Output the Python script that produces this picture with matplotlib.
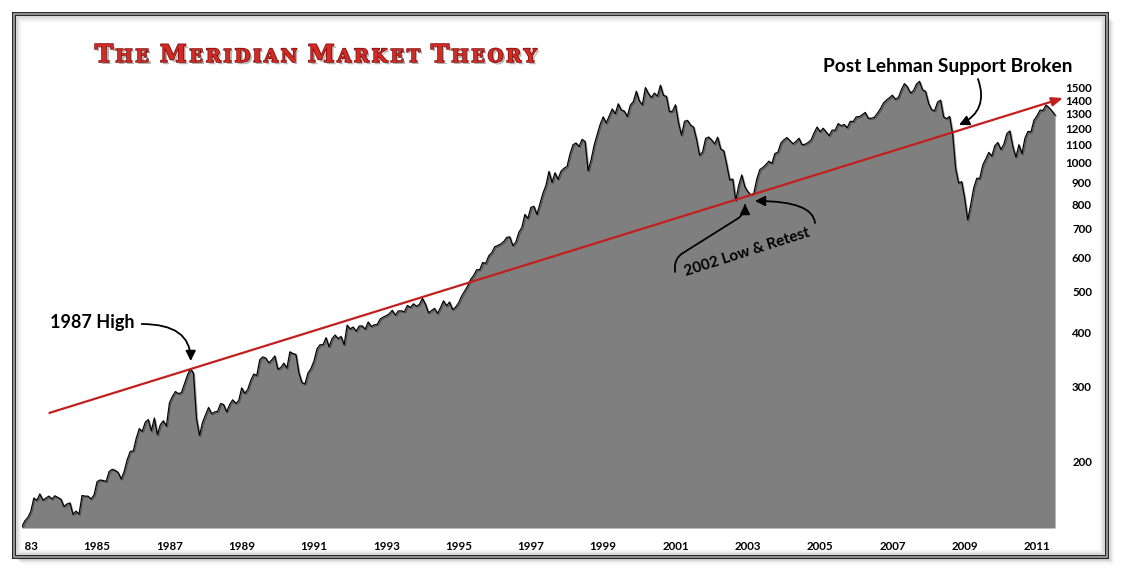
import numpy as np
import matplotlib
matplotlib.use("Agg")
import matplotlib.pyplot as plt
from matplotlib.patches import Rectangle
import matplotlib.patheffects as pe
from matplotlib.transforms import Bbox, TransformedBbox, IdentityTransform
from matplotlib.ticker import NullLocator

# ---------------- data (S&P 500 style monthly closes) -------------
start_year = 1982
start_month = 12

closes_1980s = [
    140.6,
    145.3, 148.1, 153.0, 164.4, 162.4, 168.1, 162.6, 164.4, 166.1, 163.6, 166.4, 164.9,
    163.4, 157.1, 159.2, 160.1, 150.6, 153.2, 150.7, 166.7, 166.1, 166.1, 163.6, 167.2,
    179.6, 181.2, 180.7, 179.8, 189.6, 191.9, 190.9, 188.6, 182.1, 189.8, 202.2, 211.3,
    211.8, 226.9, 238.9, 235.5, 247.4, 250.8, 236.1, 252.9, 231.3, 244.0, 249.2, 242.2,
    274.1, 284.2, 291.7, 288.4, 290.1, 304.0, 318.7, 329.8, 321.8, 251.8, 230.3, 247.1,
    257.1, 267.8, 258.9, 261.3, 262.2, 273.5, 272.0, 261.5, 271.9, 279.0, 273.7, 277.7,
    297.5, 288.9, 294.9, 309.6, 320.5, 318.0, 346.1, 351.5, 349.2, 340.4, 346.0, 353.4,
]
closes_1990s = [
    329.1, 331.9, 339.9, 330.8, 361.2, 358.0, 356.2, 322.6, 306.1, 304.0, 322.2, 330.2,
    343.9, 367.1, 375.2, 375.4, 389.8, 371.2, 387.8, 395.4, 387.9, 392.5, 375.2, 417.1,
    408.8, 412.7, 403.7, 415.0, 415.4, 408.1, 424.2, 414.0, 417.8, 418.7, 431.4, 435.7,
    438.8, 443.4, 451.7, 440.2, 450.2, 450.5, 448.1, 463.6, 458.9, 467.8, 461.8, 466.5,
    481.6, 467.1, 445.8, 450.9, 456.5, 444.3, 458.3, 475.5, 462.7, 472.4, 453.7, 459.3,
    470.4, 487.4, 500.7, 514.7, 533.4, 544.8, 562.1, 561.9, 584.4, 581.5, 605.4, 615.9,
    636.0, 640.4, 645.5, 654.2, 669.1, 670.6, 640.0, 652.0, 687.3, 705.3, 757.0, 740.7,
    786.2, 790.8, 757.1, 801.3, 848.3, 885.1, 954.3, 899.5, 947.3, 914.6, 955.4, 970.4,
    980.3, 1049.3, 1101.8, 1111.8, 1090.8, 1133.8, 1120.7, 957.3, 1017.0, 1098.7, 1163.6, 1229.2,
    1279.6, 1238.3, 1286.4, 1335.2, 1301.8, 1372.7, 1328.7, 1320.4, 1282.7, 1362.9, 1388.9, 1469.3,
]
closes_2000s = [
    1394.5, 1366.4, 1498.6, 1452.4, 1420.6, 1454.6, 1430.8, 1517.7, 1436.5, 1429.4, 1315.0, 1320.3,
    1366.0, 1239.9, 1160.3, 1249.5, 1255.8, 1224.4, 1211.2, 1133.6, 1040.9, 1059.8, 1139.5, 1148.1,
    1130.2, 1106.7, 1147.4, 1076.9, 1067.1, 989.8, 911.6, 916.1, 815.3, 885.8, 936.3, 879.8,
    855.7, 841.2, 848.2, 916.9, 963.6, 974.5, 990.3, 1008.0, 996.0, 1050.7, 1058.2, 1111.9,
    1131.1, 1144.9, 1126.2, 1107.3, 1120.7, 1140.8, 1101.7, 1104.2, 1114.6, 1130.2, 1173.8, 1211.9,
    1181.3, 1203.6, 1180.6, 1156.9, 1191.5, 1191.3, 1234.2, 1220.3, 1228.8, 1207.0, 1249.5, 1248.3,
    1280.1, 1280.7, 1294.8, 1310.6, 1270.1, 1270.2, 1276.7, 1303.8, 1335.9, 1377.9, 1400.6, 1418.3,
    1438.2, 1406.8, 1420.9, 1482.4, 1530.6, 1503.4, 1455.3, 1474.0, 1526.8, 1549.4, 1481.1, 1468.4,
    1378.6, 1330.6, 1322.7, 1385.6, 1400.4, 1280.0, 1267.4, 1282.8, 1166.4, 968.8, 896.2, 903.3,
    825.9, 735.1, 797.9, 872.8, 919.1, 919.3, 987.5, 1020.6, 1057.1, 1036.2, 1095.6, 1115.1,
]
closes_2010s = [
    1073.9, 1104.5, 1169.4, 1186.7, 1089.4, 1030.7, 1101.6, 1049.3, 1141.2, 1183.3, 1180.6, 1257.6,
    1286.1, 1327.2, 1325.8, 1363.6, 1345.2, 1320.6, 1292.3,
]

x_tick_years = list(range(1983, 2012, 2))
x_tick_labels = [str(y) for y in x_tick_years]
y_tick_values = [200, 300, 400, 500, 600, 700, 800, 900, 1000, 1100, 1200, 1300, 1400, 1500]
y_tick_labels = [str(v) for v in y_tick_values]

trend_years = [1983.68, 2011.72]
trend_values = [260, 1416]

title_words = ["THE", "MERIDIAN", "MARKET", "THEORY"]

closes = np.array(closes_1980s + closes_1990s + closes_2000s + closes_2010s)
dates = np.array([start_year + (start_month - 1 + i) / 12.0 for i in range(len(closes))])

# ---------------- figure -------------
W, H, DPI = 1127, 578, 100
fig = plt.figure(figsize=(W / DPI, H / DPI), dpi=DPI)
fig.patch.set_facecolor("white")


def fr(x0, y0, x1, y1):
    """pixel box (top-left origin) -> figure fraction rect"""
    return (x0 / W, 1 - y1 / H), (x1 - x0) / W, (y1 - y0) / H


# drop shadow of frame
for i, a in enumerate([0.10, 0.08, 0.06, 0.045, 0.03, 0.02]):
    off = 1.5 + i * 1.2
    xy, w, h = fr(14 + off, 14.3 + off, 1106.7 + off, 557 + off)
    fig.patches.append(Rectangle(xy, w, h, transform=fig.transFigure,
                                 facecolor="black", edgecolor="none", alpha=a, zorder=-5))
xy, w, h = fr(14, 14.3, 1106.7, 557)
fig.patches.append(Rectangle(xy, w, h, transform=fig.transFigure, facecolor="white",
                             edgecolor="#2a2a2a", lw=4 * 72 / DPI, zorder=-4))
fig.patches.append(Rectangle(xy, w, h, transform=fig.transFigure, facecolor="none",
                             edgecolor="#a8a8a8", lw=1.6 * 72 / DPI, zorder=-3))
# soft inner shadow
for i, c in enumerate(["#d4d4d4", "#e6e6e6", "#f2f2f2"]):
    d = 3 + i * 1.6
    xy2, w2, h2 = fr(14 + d, 14.3 + d, 1106.7 - d, 557 - d)
    fig.patches.append(Rectangle(xy2, w2, h2, transform=fig.transFigure, facecolor="none",
                                 edgecolor=c, lw=1.8 * 72 / DPI, zorder=-2))

# ---------------- axes -------------
ax_l, ax_r, ax_t, ax_b = 22, 1060, 20, 528
ax = fig.add_axes([ax_l / W, 1 - ax_b / H, (ax_r - ax_l) / W, (ax_b - ax_t) / H])
ax.set_facecolor("none")
ax.set_yscale("log")


def px2year(px):
    return 1985 + (px - 97.1) / 36.15


def py2val(py):
    return 10 ** (3 - (py - 162.7) / 427.7)


ymin, ymax = py2val(ax_b), py2val(ax_t)
ax.set_xlim(px2year(ax_l), px2year(ax_r))
ax.set_ylim(ymin, ymax)

ax.fill_between(dates, closes, ymin, color="#7f7f7f", lw=0, zorder=1)
ax.plot(dates, closes, color="black", lw=0.9, zorder=2,
        path_effects=[pe.SimpleLineShadow(offset=(0.8, -0.8), alpha=0.35, shadow_color="black"),
                      pe.Normal()])

for s in ax.spines.values():
    s.set_visible(False)

tick_font = dict(family=["Lato", "DejaVu Sans"], weight="bold", size=8.3)
ax.set_xticks(x_tick_years)
ax.set_xticklabels(x_tick_labels, **tick_font)
ax.tick_params(axis="x", length=0, pad=9.3)
ax.yaxis.tick_right()
ax.set_yticks(y_tick_values)
ax.set_yticklabels(y_tick_labels, ha="right", **tick_font)
ax.yaxis.set_minor_locator(NullLocator())
ax.tick_params(axis="y", which="both", length=0, pad=(1092 - ax_r) * 72 / DPI)

# the first year label is cut by the left edge of the plot
clipbox = TransformedBbox(Bbox([[3.0 / (ax_r - ax_l), -1], [2, 2]]), ax.transAxes)
lab0 = ax.get_xticklabels()[0]
lab0.set_clip_box(clipbox)
lab0.set_clip_on(True)

# trend line with arrow
ax.annotate("", xy=(trend_years[1], trend_values[1]), xytext=(trend_years[0], trend_values[0]),
            xycoords="data", textcoords="data", annotation_clip=False,
            arrowprops=dict(arrowstyle="-|>,head_length=0.55,head_width=0.22", color="#c21f1f",
                            lw=1.6, mutation_scale=12, shrinkA=0, shrinkB=0))

ann_font = dict(family=["Lato", "DejaVu Sans"], weight="bold", color="black")
arrow_kw = dict(arrowstyle="-|>,head_length=0.6,head_width=0.3", color="black", lw=1.3,
                mutation_scale=10, shrinkA=0, shrinkB=0)

# 1987 High
ax.text(px2year(92.5), py2val(322), "1987 High", ha="center", va="center", size=13, **ann_font)
ax.annotate("", xy=(px2year(190.7), py2val(361)), xytext=(px2year(141.7), py2val(324)),
            arrowprops=dict(connectionstyle="angle3,angleA=0,angleB=90", **arrow_kw))

# 2002 Low & Retest
ax.text(px2year(747), py2val(252), "2002 Low & Retest", ha="center", va="center", size=11,
        rotation=17.7, rotation_mode="anchor", **ann_font)
ax.annotate("", xy=(px2year(745), py2val(204)), xytext=(px2year(675), py2val(272)),
            arrowprops=dict(connectionstyle="arc,angleA=90,angleB=-90,armA=14,armB=10,rad=9",
                            **arrow_kw))
ax.annotate("", xy=(px2year(755), py2val(201)), xytext=(px2year(815), py2val(223)),
            arrowprops=dict(connectionstyle="angle3,angleA=95,angleB=0", **arrow_kw))

# Post Lehman Support Broken
ax.text(px2year(947.5), py2val(66), "Post Lehman Support Broken", ha="center", va="center",
        size=13.8, **ann_font)
ax.annotate("", xy=(px2year(959), py2val(125)), xytext=(px2year(978), py2val(79)),
            annotation_clip=False,
            arrowprops=dict(connectionstyle="arc3,rad=-0.45", **arrow_kw))

# ---------------- title (small caps emulation) -------------
renderer = fig.canvas.get_renderer()
big_pt, small_pt = 17.5, 13.2
title_effects = [pe.SimplePatchShadow(offset=(1.6, -1.6), shadow_rgbFace="#777777", alpha=0.55),
                 pe.Stroke(linewidth=1.1, foreground="#7d0d0d"), pe.Normal()]
pieces = []
for wi, word in enumerate(title_words):
    for ci, ch in enumerate(word):
        t = fig.text(0, 0, ch, transform=IdentityTransform(), fontsize=big_pt if ci == 0 else small_pt,
                     family=["DejaVu Serif"], weight="bold", color="#d42a24", va="baseline",
                     ha="left", path_effects=title_effects)
        pieces.append((t, wi, ci))
widths = [t.get_window_extent(renderer).width for t, _, _ in pieces]
space_px = 8.0
target_w = 537 - 95
natural = sum(widths) + space_px * (len(title_words) - 1)
track = max(0.0, (target_w - natural) / (len(pieces) - 1))
x = 95.0
base_y = H - 62
prev_word = 0
for (t, wi, ci), wdt in zip(pieces, widths):
    if wi != prev_word:
        x += space_px
        prev_word = wi
    t.set_position((x, base_y))
    x += wdt + track

fig.savefig("out.png", dpi=DPI, facecolor="white")
